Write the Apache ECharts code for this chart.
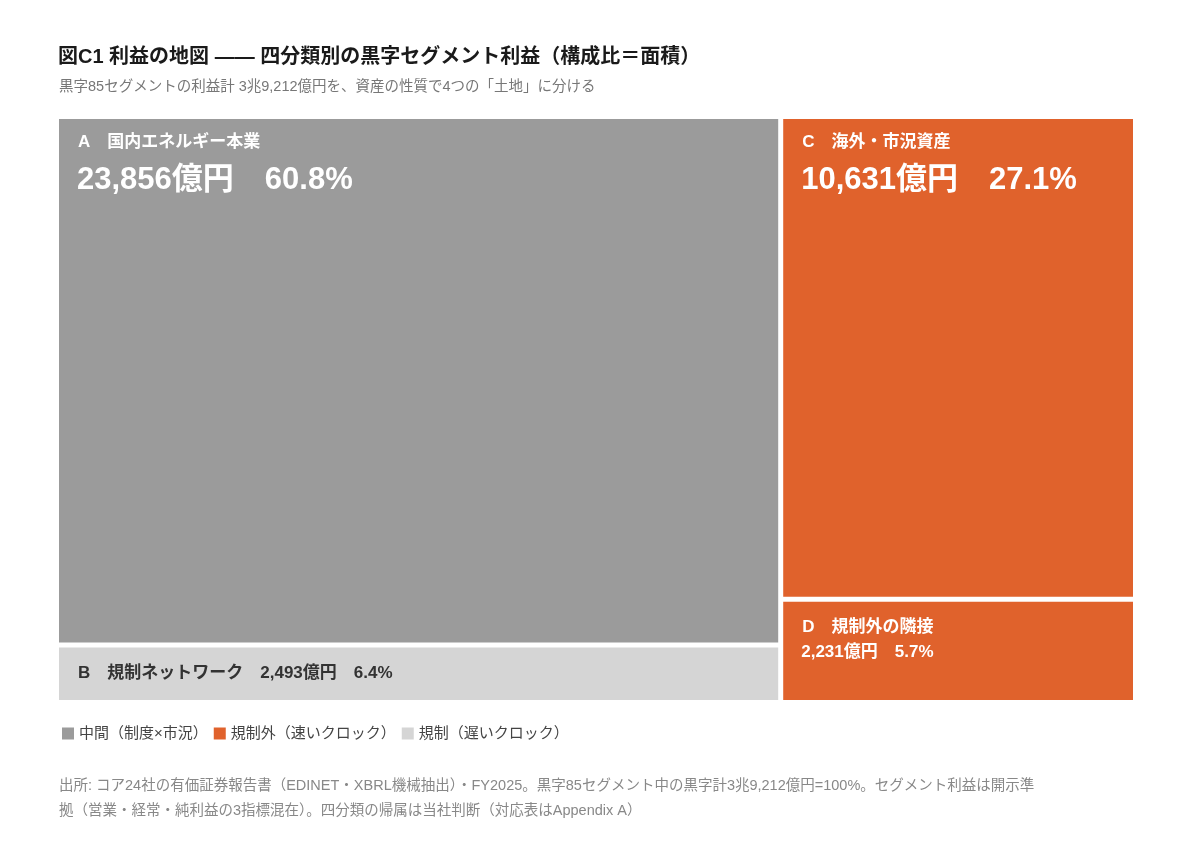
<!DOCTYPE html>
<html lang="ja">
<head>
<meta charset="utf-8">
<title>図C1 利益の地図</title>
<script src="https://cdn.jsdelivr.net/npm/echarts@6/dist/echarts.min.js"></script>
<style>html,body{margin:0;height:100%;background:#fff}#main{width:1200px;height:858px}</style>
</head>
<body>
<div id="main"></div>
<script>
// 四分類のセグメント利益（億円）
var codes = ['A', 'B', 'C', 'D'];
var names = ['国内エネルギー本業', '規制ネットワーク', '海外・市況資産', '規制外の隣接'];
var values = [23856, 2493, 10631, 2231];
var colors = ['#9b9b9b', '#d5d5d5', '#e0622c', '#e0622c'];
var legendNames = ['中間（制度×市況）', '規制外（速いクロック）', '規制（遅いクロック）'];
var legendColors = ['#9b9b9b', '#e0622c', '#d5d5d5'];

var FONT = '"Liberation Sans", "Noto Sans CJK JP", sans-serif';
var total = values.reduce(function (a, b) { return a + b; }, 0);
var leftSum = values[0] + values[1];
var rightSum = values[2] + values[3];

// 各矩形: [x0, x1, y0, y1]（x は利益額軸、y は列内の構成比 0..1）
function rectOf(i) {
  if (i < 2) {
    var split = values[1] / leftSum;
    return i === 0 ? [0, leftSum, split, 1] : [0, leftSum, 0, split];
  }
  var s = values[3] / rightSum;
  return i === 2 ? [leftSum, total, s, 1] : [leftSum, total, 0, s];
}
var data = values.map(function (v, i) { return rectOf(i).concat([i]); });

function fmt(v) { return v.toLocaleString('en-US'); }
function pct(v) { return (v / total * 100).toFixed(1) + '%'; }

var chart = echarts.init(document.getElementById('main'));
var gap = 2.5;
chart.setOption({
  animation: false,
  textStyle: { fontFamily: FONT },
  title: [
    { text: '図C1 利益の地図 —— 四分類別の黒字セグメント利益（構成比＝面積）', left: 53, top: 42,
      textStyle: { fontSize: 20, fontWeight: 'bold', color: '#1a1a1a', fontFamily: FONT } },
    { text: '黒字85セグメントの利益計 3兆9,212億円を、資産の性質で4つの「土地」に分ける', left: 54, top: 75,
      textStyle: { fontSize: 14.5, fontWeight: 'normal', color: '#777', fontFamily: FONT } },
    { text: '出所: コア24社の有価証券報告書（EDINET・XBRL機械抽出）・FY2025。黒字85セグメント中の黒字計3兆9,212億円=100%。セグメント利益は開示準\n拠（営業・経常・純利益の3指標混在）。四分類の帰属は当社判断（対応表はAppendix A）',
      left: 54, top: 768,
      textStyle: { fontSize: 14.5, fontWeight: 'normal', color: '#888', lineHeight: 25, fontFamily: FONT } }
  ],
  legend: {
    left: 57, top: 721, icon: 'rect', itemWidth: 12, itemHeight: 12, itemGap: 6,
    textStyle: { fontSize: 15, color: '#444', fontFamily: FONT },
    data: legendNames
  },
  grid: { left: 59, right: 67, top: 119, bottom: 158 },
  xAxis: { type: 'value', min: 0, max: total, show: false },
  yAxis: { type: 'value', min: 0, max: 1, show: false },
  series: legendNames.map(function (n, k) {
    return { name: n, type: 'custom', data: [], itemStyle: { color: legendColors[k] },
      renderItem: function () { return null; } };
  }).concat([{
    type: 'custom',
    data: data,
    renderItem: function (params, api) {
      var i = api.value(4);
      var p0 = api.coord([api.value(0), api.value(3)]);
      var p1 = api.coord([api.value(1), api.value(2)]);
      var x = p0[0] + (i >= 2 ? gap : 0);
      var y = p0[1] + (i === 1 || i === 3 ? gap : 0);
      var w = p1[0] - p0[0] - gap;
      var h = p1[1] - p0[1] - gap;
      var children = [{ type: 'rect', shape: { x: x, y: y, width: w, height: h },
        style: { fill: colors[i] } }];
      var tc = i !== 1 ? '#fff' : '#333';
      var head = codes[i] + '　' + names[i];
      var val = fmt(values[i]) + '億円　' + pct(values[i]);
      if (i === 0 || i === 2) {
        children.push({ type: 'text', x: x + 19, y: y + 15,
          style: { text: head, fill: tc, font: 'bold 17px ' + FONT } });
        children.push({ type: 'text', x: x + 18, y: y + 46,
          style: { text: val, fill: tc, font: 'bold 31px ' + FONT } });
      } else if (i === 3) {
        children.push({ type: 'text', x: x + 19, y: y + 17,
          style: { text: head, fill: tc, font: 'bold 17px ' + FONT } });
        children.push({ type: 'text', x: x + 18, y: y + 42,
          style: { text: val, fill: tc, font: 'bold 17px ' + FONT } });
      } else {
        children.push({ type: 'text', x: x + 19, y: y + h / 2,
          style: { text: head + '　' + val, fill: tc, font: 'bold 17px ' + FONT, verticalAlign: 'middle' } });
      }
      return { type: 'group', children: children };
    }
  }])
});
</script>
</body>
</html>
